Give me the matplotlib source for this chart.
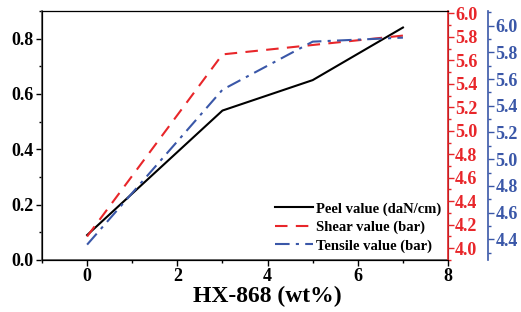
import matplotlib.pyplot as plt
from matplotlib.ticker import MultipleLocator

plt.rcParams['font.family'] = ['Liberation Serif', 'DejaVu Serif']
plt.rcParams['font.weight'] = 'bold'

# datos
hx_content = [0, 3, 5, 7]
peel = [0.09, 0.54, 0.65, 0.84]
shear = [4.10, 5.65, 5.73, 5.81]
tensile = [4.36, 5.52, 5.88, 5.91]

red = '#e8262a'
blue = '#3a57a8'
fs_tick = 13

fig = plt.figure(figsize=(5.21, 3.12), dpi=100)
ax = fig.add_axes([0.0806, 0.1667, 0.7794, 0.7983])

l1, = ax.plot(hx_content, peel, color='black', lw=1.5, label='Peel value (daN/cm)')
ax.set_xlim(-1, 8)
ax.set_ylim(0, 0.9)
ax.xaxis.set_major_locator(MultipleLocator(2))
ax.xaxis.set_minor_locator(MultipleLocator(1))
ax.yaxis.set_major_locator(MultipleLocator(0.2))
ax.yaxis.set_minor_locator(MultipleLocator(0.1))
ax.tick_params(which='both', direction='out', labelsize=fs_tick, width=1, pad=2)
ax.tick_params(which='major', length=4)
ax.tick_params(which='minor', length=2.5)
ax.set_xlabel('HX-868 (wt%)', fontsize=17, fontweight='bold')
ax.xaxis.set_label_coords(0.554, -0.105)
for s in ['left', 'bottom']:
    ax.spines[s].set_color('#555555')
    ax.spines[s].set_linewidth(1.2)
ax.spines['top'].set_color('#777777')

ax2 = ax.twinx()
l2, = ax2.plot(hx_content, shear, color=red, lw=1.5, ls=(0, (6, 4)), label='Shear value (bar)')
ax2.set_ylim(3.9, 6.02)
ax2.yaxis.set_major_locator(MultipleLocator(0.2))
ax2.yaxis.set_minor_locator(MultipleLocator(0.1))
ax2.tick_params(which='both', colors=red, labelsize=fs_tick, width=1, pad=1)
ax2.tick_params(which='major', length=4)
ax2.tick_params(which='minor', length=2.5)
ax2.spines['right'].set_color(red)
ax2.spines['right'].set_linewidth(1.2)

ax3 = ax.twinx()
ax3.spines['right'].set_position(('outward', 29))
l3, = ax3.plot(hx_content, tensile, color=blue, lw=1.5, ls=(0, (7, 3, 1.5, 3)), label='Tensile value (bar)')
ax3.set_ylim(4.245, 6.11)
ax3.yaxis.set_major_locator(MultipleLocator(0.2))
ax3.yaxis.set_minor_locator(MultipleLocator(0.1))
ax3.tick_params(which='both', colors=blue, labelsize=fs_tick, width=1, pad=1)
ax3.tick_params(which='major', length=4)
ax3.tick_params(which='minor', length=2.5)
ax3.spines['right'].set_color(blue)
ax3.spines['right'].set_linewidth(1.2)

for a in (ax, ax2, ax3):
    for lab in a.get_xticklabels() + a.get_yticklabels():
        lab.set_fontweight('bold')

ax.legend(handles=[l1, l2, l3], loc='lower right', frameon=False, fontsize=10.5,
          handlelength=2.6, handletextpad=0.2, labelspacing=0.35,
          borderaxespad=0.1, bbox_to_anchor=(1.0, 0.0))

fig.savefig('out.png', dpi=100)
